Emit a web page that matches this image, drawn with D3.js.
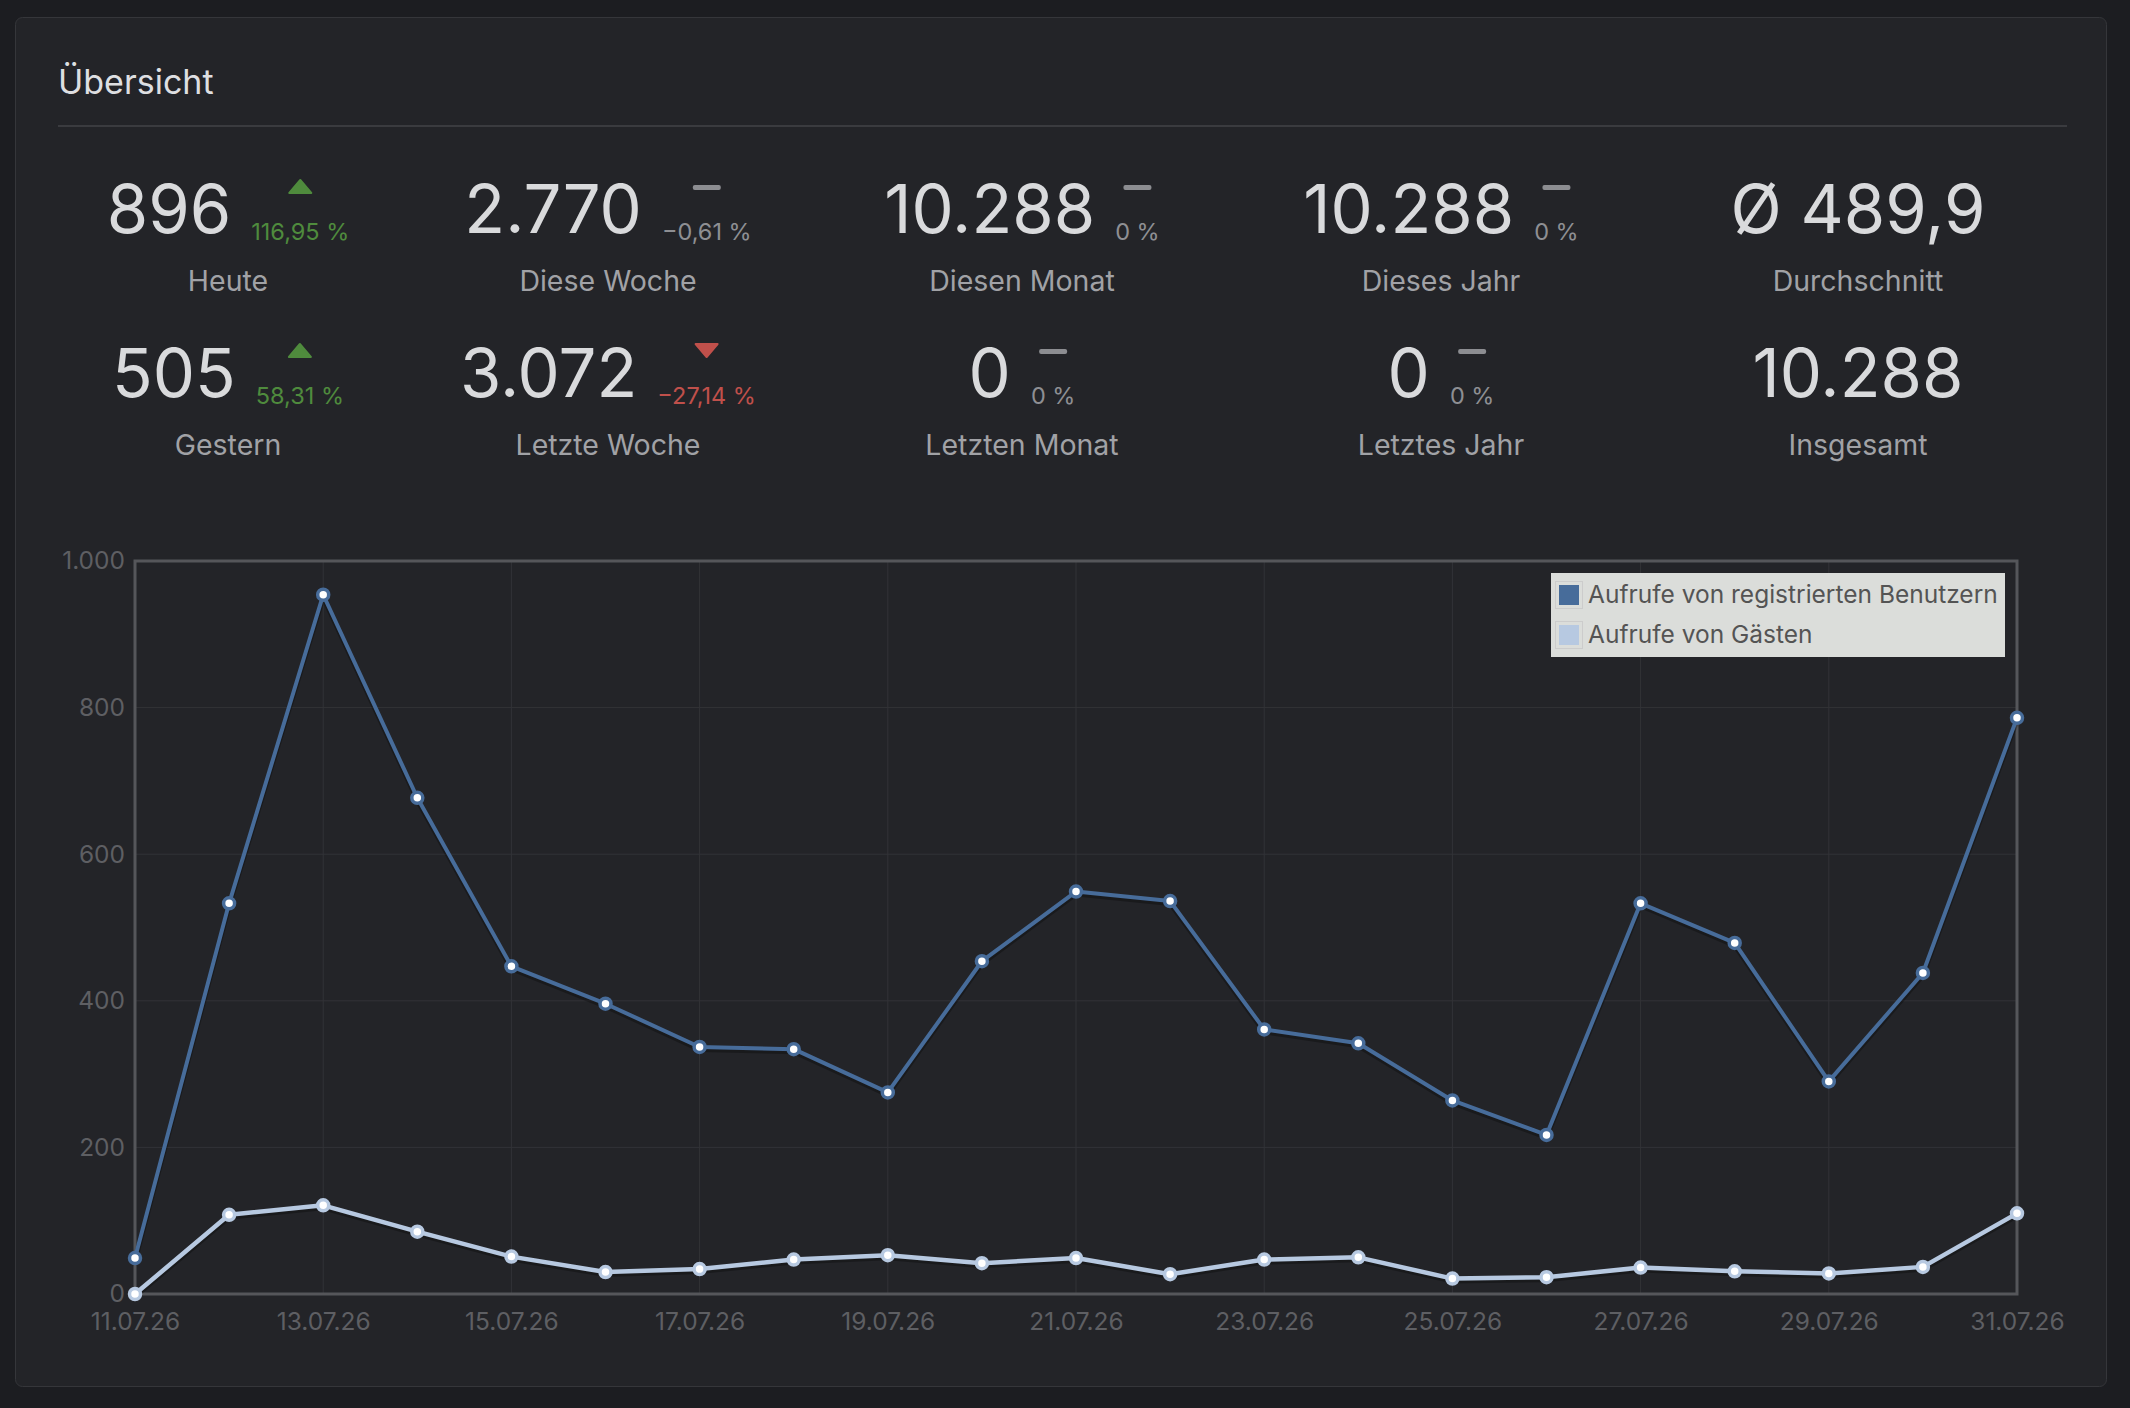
<!DOCTYPE html>
<html>
<head>
<meta charset="utf-8">
<script src="https://cdn.jsdelivr.net/npm/d3@7"></script>
<style>
  html, body { margin: 0; padding: 0; background: #1c1d21; }
  svg { display: block; font-family: Inter, "Noto Sans", sans-serif; }
</style>
</head>
<body>
<div id="chart"></div>
<script>
// daily views, 11.07.26 - 31.07.26
var dates = ["11.07.26", "12.07.26", "13.07.26", "14.07.26", "15.07.26", "16.07.26", "17.07.26",
    "18.07.26", "19.07.26", "20.07.26", "21.07.26", "22.07.26", "23.07.26", "24.07.26",
    "25.07.26", "26.07.26", "27.07.26", "28.07.26", "29.07.26", "30.07.26", "31.07.26"];
var registered = [49, 533, 954, 677, 447, 396, 337, 334, 275, 454, 549, 536, 361, 342, 264, 217, 533, 479, 290, 438, 786];
var guests = [0, 108, 121, 85, 51, 30, 34, 47, 53, 42, 49, 27, 47, 50, 21, 23, 36, 31, 28, 37, 110];
var seriesNames = ["Aufrufe von registrierten Benutzern", "Aufrufe von Gästen"];
var yTicks = [0, 200, 400, 600, 800, 1000];

// overview tiles, row by row
var statNames = ["Heute", "Diese Woche", "Diesen Monat", "Dieses Jahr", "Durchschnitt",
    "Gestern", "Letzte Woche", "Letzten Monat", "Letztes Jahr", "Insgesamt"];
var statValues = ["896", "2.770", "10.288", "10.288", "Ø 489,9", "505", "3.072", "0", "0", "10.288"];
var statChanges = ["116,95 %", "−0,61 %", "0 %", "0 %", null, "58,31 %", "−27,14 %", "0 %", "0 %", null];
var statTrends = ["up", "flat", "flat", "flat", null, "up", "down", "flat", "flat", null];

var W = 2130, H = 1408;
var colCenters = [228, 608, 1022, 1441, 1858];
var trendColor = { up: "#4f8b3d", down: "#c0504b", flat: "#8c8d91" };
var seriesColor = ["#476c9a", "#b7c9e1"];

var de = d3.formatLocale({ decimal: ",", thousands: ".", grouping: [3], currency: ["", " €"] });
var fmt = de.format(",d");

var svg = d3.select("#chart").append("svg")
    .attr("width", W)
    .attr("height", H);

svg.append("rect").attr("width", W).attr("height", H).attr("fill", "#1c1d21");

// card
svg.append("rect")
    .attr("x", 15.5).attr("y", 17.5)
    .attr("width", 2091).attr("height", 1369)
    .attr("rx", 7)
    .attr("fill", "#232428")
    .attr("stroke", "#35363a");

svg.append("text")
    .attr("x", 58).attr("y", 94)
    .attr("font-size", 34)
    .attr("fill", "#dedfe1")
    .text("Übersicht");

svg.append("line")
    .attr("x1", 58).attr("x2", 2067)
    .attr("y1", 126).attr("y2", 126)
    .attr("stroke", "#3a3b3f").attr("stroke-width", 2);

// stat tiles
var tiles = svg.append("g").attr("class", "tiles");
statNames.forEach(function (name, i) {
    var row = Math.floor(i / 5), col = i % 5;
    var dy = row * 164;
    var cx = colCenters[col];
    var g = tiles.append("g");

    var num = g.append("text")
        .attr("y", 233 + dy)
        .attr("font-size", 67)
        .attr("fill", "#d9dadc")
        .text(statValues[i]);
    var numW = num.node().getComputedTextLength();

    var indW = 0, pct = null;
    if (statChanges[i] != null) {
        pct = g.append("text")
            .attr("y", 240 + dy)
            .attr("font-size", 23.5)
            .attr("fill", statTrends[i] == "flat" ? "#8e8f93" : trendColor[statTrends[i]])
            .text(statChanges[i]);
        indW = Math.max(pct.node().getComputedTextLength(), 30);
    }
    var gap = indW > 0 ? 20 : 0;
    var x0 = cx - (numW + gap + indW) / 2;
    num.attr("x", x0);

    if (pct) {
        var ic = x0 + numW + gap + indW / 2;
        pct.attr("x", ic).attr("text-anchor", "middle");
        var t = statTrends[i];
        if (t == "flat") {
            g.append("rect")
                .attr("x", ic - 14).attr("y", 185 + dy)
                .attr("width", 28).attr("height", 5)
                .attr("rx", 2)
                .attr("fill", trendColor.flat);
        } else {
            var tri = t == "up"
                ? [[ic - 11, 193], [ic + 11, 193], [ic, 180]]
                : [[ic - 11, 180], [ic + 11, 180], [ic, 193]];
            g.append("path")
                .attr("d", d3.line()(tri.map(function (p) { return [p[0], p[1] + dy]; })) + "Z")
                .attr("fill", trendColor[t])
                .attr("stroke", trendColor[t])
                .attr("stroke-width", 2)
                .attr("stroke-linejoin", "round");
        }
    }

    g.append("text")
        .attr("x", cx).attr("y", 291 + dy)
        .attr("text-anchor", "middle")
        .attr("font-size", 28.5)
        .attr("fill", "#a1a2a6")
        .text(name);
});

// chart
var plot = { left: 135, right: 2017, top: 561, bottom: 1294 };

var x = d3.scalePoint()
    .domain(dates)
    .range([plot.left, plot.right]);

var y = d3.scaleLinear()
    .domain([0, 1000])
    .range([plot.bottom, plot.top]);

var labeled = dates.filter(function (d, i) { return i % 2 == 0; });

var chart = svg.append("g").attr("class", "chart");

chart.append("g")
    .selectAll("line.vgrid")
    .data(labeled)
    .join("line")
    .attr("x1", function (d) { return x(d); })
    .attr("x2", function (d) { return x(d); })
    .attr("y1", plot.top).attr("y2", plot.bottom)
    .attr("stroke", "#323337");

chart.append("g")
    .selectAll("line.hgrid")
    .data(yTicks)
    .join("line")
    .attr("x1", plot.left).attr("x2", plot.right)
    .attr("y1", function (d) { return y(d); })
    .attr("y2", function (d) { return y(d); })
    .attr("stroke", "#323337");

chart.append("rect")
    .attr("x", plot.left).attr("y", plot.top)
    .attr("width", plot.right - plot.left)
    .attr("height", plot.bottom - plot.top)
    .attr("fill", "none")
    .attr("stroke", "#55565a")
    .attr("stroke-width", 3);

var yAxis = chart.append("g")
    .attr("transform", "translate(" + (plot.left - 10) + ",0)")
    .call(d3.axisLeft(y).tickValues(yTicks).tickFormat(fmt).tickSize(0).tickPadding(0));
yAxis.select(".domain").remove();
yAxis.selectAll("text")
    .attr("font-size", 24.5)
    .attr("font-family", "Inter, sans-serif")
    .attr("fill", "#5e5f63");

var xAxis = chart.append("g")
    .attr("transform", "translate(0," + plot.bottom + ")")
    .call(d3.axisBottom(x).tickValues(labeled).tickSize(0).tickPadding(19));
xAxis.select(".domain").remove();
xAxis.selectAll("text")
    .attr("font-size", 24.5)
    .attr("font-family", "Inter, sans-serif")
    .attr("fill", "#5e5f63");

var line = d3.line()
    .x(function (d, i) { return x(dates[i]); })
    .y(function (d) { return y(d); });

[registered, guests].forEach(function (values, k) {
    var s = chart.append("g");
    s.append("path")
        .attr("d", line(values))
        .attr("transform", "translate(0,2.5)")
        .attr("fill", "none")
        .attr("stroke", "rgba(0,0,0,0.28)")
        .attr("stroke-width", 5);
    s.append("path")
        .attr("d", line(values))
        .attr("fill", "none")
        .attr("stroke", seriesColor[k])
        .attr("stroke-width", k == 0 ? 4 : 4.5)
        .attr("stroke-linejoin", "round");
    s.selectAll("circle")
        .data(values)
        .join("circle")
        .attr("cx", function (d, i) { return x(dates[i]); })
        .attr("cy", function (d) { return y(d); })
        .attr("r", 5.5)
        .attr("fill", "#ffffff")
        .attr("stroke", seriesColor[k])
        .attr("stroke-width", 3.5);
});

// legend
var legend = chart.append("g").attr("transform", "translate(1551,573)");
legend.append("rect")
    .attr("width", 454).attr("height", 84)
    .attr("fill", "#e1e3e0")
    .attr("opacity", 0.97);
seriesNames.forEach(function (name, k) {
    var row = legend.append("g").attr("transform", "translate(4," + (8 + k * 40) + ")");
    row.append("rect")
        .attr("x", 0.5).attr("y", 0.5)
        .attr("width", 27).attr("height", 27)
        .attr("fill", "none")
        .attr("stroke", "#cccccc");
    row.append("rect")
        .attr("x", 4).attr("y", 4)
        .attr("width", 20).attr("height", 20)
        .attr("fill", seriesColor[k]);
    row.append("text")
        .attr("x", 33).attr("y", 22)
        .attr("font-size", 24.5)
        .attr("fill", "#545454")
        .text(name);
});
</script>
</body>
</html>
